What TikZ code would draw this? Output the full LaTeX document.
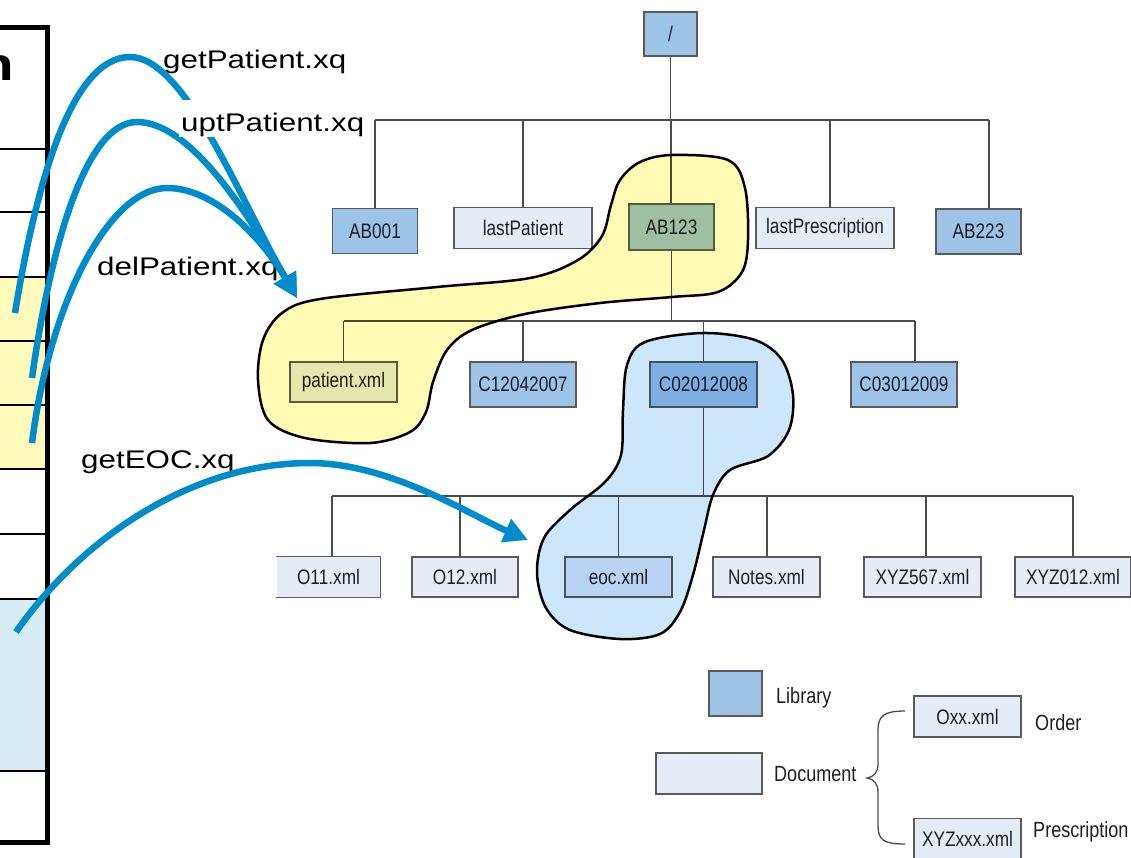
\documentclass[tikz,border=0pt]{standalone}
\usepackage{fontspec}
\setmainfont{Liberation Sans}
\newfontfamily\boxfont[FakeStretch=0.82]{Liberation Sans}
\newfontfamily\callfont[FakeStretch=1.23]{Liberation Sans}
\usetikzlibrary{arrows.meta}

\definecolor{arrowblue}{RGB}{0,139,203}
\definecolor{libfill}{RGB}{157,195,230}
\definecolor{docfill}{RGB}{230,236,246}
\definecolor{boxline}{RGB}{90,90,90}
\definecolor{treeline}{RGB}{75,75,75}
\definecolor{boxtext}{RGB}{30,30,40}
\definecolor{cellyellow}{RGB}{255,250,185}
\definecolor{cellblue}{RGB}{216,236,246}
\definecolor{blobyellow}{RGB}{255,250,180}
\definecolor{blobblue}{RGB}{204,230,251}

\tikzset{
  tbox/.style={draw=boxline,line width=1.4pt,inner sep=0pt,text=boxtext,
    font=\boxfont\fontsize{21}{24}\selectfont},
  lib/.style={tbox,fill=libfill},
  doc/.style={tbox,fill=docfill},
  wh/.style 2 args={minimum width=#1pt,minimum height=#2pt},
  tline/.style={draw=treeline,line width=1.3pt},
  rowline/.style={draw=black,line width=2pt},
  legtext/.style={anchor=base west,inner sep=0pt,text=boxtext,
    font=\boxfont\fontsize{22}{26}\selectfont},
  calltext/.style={anchor=base west,inner sep=0pt,
    font=\callfont\fontsize{25.5}{30}\selectfont},
  callarc/.style={draw=arrowblue,line width=6.5pt,
    -{Triangle[length=24pt,width=24pt]}},
  blobY/.style={fill=blobyellow,blend mode=multiply,draw=black,line width=2.5pt},
  blobB/.style={fill=blobblue,blend mode=multiply,draw=black,line width=2.5pt},
}

\begin{document}
\begin{tikzpicture}[x=1pt,y=-1pt]
\clip (0,0) rectangle (1131,857);
\fill[white] (0,0) rectangle (1131,857);

% ---- table on the left ----
\fill[cellyellow] (0,277) rectangle (45,469);
\fill[cellblue] (0,599) rectangle (45,771);
\foreach \y in {149,212,277,341,405,469,534,599,771}
  \draw[rowline] (0,\y) -- (45,\y);
\draw[line width=5pt] (0,27.5) -- (47.5,27.5) -- (47.5,842) -- (0,842);
\node[anchor=base east,inner sep=0pt,
  font=\callfont\bfseries\fontsize{46}{50}\selectfont] (tblhead) at (14,80) {n};

% ---- tree of libraries and documents ----
\node[lib,wh={53}{44}] (root) at (670.5,34) {/};
\node[lib,wh={85}{45}] (ab001) at (375,231) {AB001};
\node[doc,wh={138}{41}] (lastpat) at (523,228) {lastPatient};
\node[lib,wh={85}{46}] (ab123) at (671.5,227) {AB123};
\node[doc,wh={138}{41}] (lastpre) at (825,228) {lastPrescription};
\node[lib,wh={85}{45}] (ab223) at (978.5,231.5) {AB223};
\node[doc,wh={107}{40}] (patient) at (343.5,382) {patient.xml};
\node[lib,wh={106}{45}] (c1) at (523,384.5) {C12042007};
\node[lib,wh={107}{45}] (c2) at (703.5,384.5) {C02012008};
\node[lib,wh={106}{45}] (c3) at (904,384.5) {C03012009};
\node[doc,draw=none,wh={103}{40}] (o11) at (328.5,577) {O11.xml};
\draw[boxline,line width=1.4pt] (o11.north west) -- (o11.north east)
  -- (o11.south east) -- (o11.south west);
\node[doc,wh={106}{40}] (o12) at (465,577) {O12.xml};
\node[doc,wh={107}{40}] (eoc) at (618.5,577) {eoc.xml};
\node[doc,wh={107}{40}] (notes) at (766.5,577) {Notes.xml};
\node[doc,wh={117}{40}] (x567) at (922.5,577) {XYZ567.xml};
\node[doc,wh={116}{40}] (x012) at (1073,577) {XYZ012.xml};

% level 1
\coordinate (t1a) at (375,120);
\coordinate (t1b) at (523,120);
\coordinate (t1c) at (671,120);
\coordinate (t1d) at (830,120);
\coordinate (t1e) at (989,120);
\draw[tline] (t1a) -- (t1e);
\draw[tline] (root.south) -- (root.south |- t1c);
\foreach \c/\n in {t1a/ab001,t1b/lastpat,t1c/ab123,t1d/lastpre,t1e/ab223}
  \draw[tline] (\c) -- (\c |- \n.north);

% level 2
\coordinate (t2a) at (343.5,321);
\coordinate (t2b) at (523,321);
\coordinate (t2c) at (703.5,321);
\coordinate (t2d) at (915,321);
\draw[tline] (t2a) -- (t2d);
\draw[tline] (ab123.south) -- (ab123.south |- t2a);
\foreach \c/\n in {t2a/patient,t2b/c1,t2c/c2,t2d/c3}
  \draw[tline] (\c) -- (\c |- \n.north);

% level 3
\coordinate (t3a) at (332,496);
\coordinate (t3b) at (460,496);
\coordinate (t3c) at (618.5,496);
\coordinate (t3d) at (767,496);
\coordinate (t3e) at (926,496);
\coordinate (t3f) at (1073,496);
\draw[tline] (t3a) -- (t3f);
\draw[tline] (c2.south) -- (c2.south |- t3a);
\foreach \c/\n in {t3a/o11,t3b/o12,t3c/eoc,t3d/notes,t3e/x567,t3f/x012}
  \draw[tline] (\c) -- (\c |- \n.north);

% ---- highlighted groups ----
\path[blobY] plot[smooth cycle,tension=0.55] coordinates {
  (672,155) (728,160) (745,188) (748,240) (742,272) (718,292) (672,297)
  (600,303) (525,314) (472,330) (447,350) (433,382) (426,412) (410,432)
  (370,443) (305,438) (268,420) (258,380) (263,340) (282,313) (320,299)
  (437,287) (530,278) (578,260) (602,236) (611,205) (620,180) (640,162)};
\path[blobB] plot[smooth cycle,tension=0.55] coordinates {
  (703,333) (755,340) (782,360) (793,395) (789,430) (768,456) (730,470)
  (713,495) (704,530) (693,575) (680,612) (660,634) (620,639) (570,630)
  (546,608) (537,573) (544,538) (570,510) (605,482) (621,455) (623,410)
  (627,365) (645,342)};

% ---- legend ----
\node[lib,wh={53}{45}] (keylib) at (735.5,693.5) {};
\node[legtext] (keylibtxt) at (776,703) {Library};
\node[doc,wh={106}{41}] (keydoc) at (709,773.5) {};
\node[legtext] (keydoctxt) at (774,781) {Document};
\node[doc,wh={107}{41}] (keyord) at (967.5,716.5) {Oxx.xml};
\node[legtext] (keyordtxt) at (1035,730) {Order};
\node[doc,wh={107}{41}] (keypre) at (967.5,839) {XYZxxx.xml};
\node[legtext] (keypretxt) at (1033,837) {Prescription};
\draw[tline] (905,711) .. controls (884,711) and (878,716) .. (878,730)
  -- (878,764) .. controls (878,772) and (874,777) .. (867,778)
  .. controls (874,779) and (878,784) .. (878,792)
  -- (878,826) .. controls (878,840) and (884,844) .. (905,844);

% ---- query calls ----
\node[calltext] (lblget) at (163,68) {getPatient.xq};
\node[calltext] (lbldel) at (97,275) {delPatient.xq};
\node[calltext] (lbleoc) at (81,468) {getEOC.xq};

\coordinate (pat1) at (15,313);
\coordinate (pat2) at (32,378);
\coordinate (pat3) at (32,443);
\coordinate (eoc1) at (16,632);
\coordinate (pattip) at (297,298);
\coordinate (eoctip) at (528,540);

\draw[callarc] (pat1) .. controls (35,190) and (70,57) .. (130,57)
  .. controls (185,57) and (240,200) .. (pattip);
\draw[callarc] (pat2) .. controls (50,250) and (85,122) .. (137,122)
  .. controls (190,122) and (247,212) .. (pattip);
\draw[callarc] (pat3) .. controls (50,300) and (110,188) .. (167,188)
  .. controls (215,188) and (262,238) .. (pattip);
\draw[callarc] (eoc1) .. controls (80,540) and (190,463) .. (310,463)
  .. controls (390,463) and (470,515) .. (eoctip);

\node[calltext,fill=white,inner xsep=2pt,text height=31pt,text depth=6pt]
  (lblupt) at (179,131) {uptPatient.xq};
\end{tikzpicture}
\end{document}
